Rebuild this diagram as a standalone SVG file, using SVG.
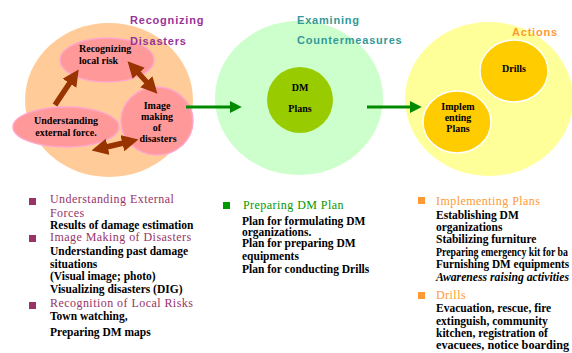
<svg xmlns="http://www.w3.org/2000/svg" width="572" height="353" viewBox="0 0 572 353">
<style>
.sec{font-family:"Liberation Sans",Arial,sans-serif;font-size:11px;font-weight:bold;letter-spacing:0.8px}
.nt{font-family:"Liberation Serif","Times New Roman",serif;font-size:10px;font-weight:bold;fill:#000}
.li{font-family:"Liberation Serif","Times New Roman",serif;font-size:11.5px;font-weight:bold;fill:#000}
.hd{font-family:"Liberation Serif","Times New Roman",serif;font-size:12px;letter-spacing:0.45px}
.pink{fill:#FF9999;stroke:#FFA6CC;stroke-width:1.5}
.gold{fill:#FFCC00;stroke:#FFFFFF;stroke-width:1.5}
.brown{stroke:#993300;stroke-width:5.5;fill:none}
.green{stroke:#008A00;stroke-width:3;fill:none}
</style>
<defs>
<marker id="bh" viewBox="0 0 10 10" refX="6" refY="5" markerWidth="3" markerHeight="3" orient="auto-start-reverse">
<path d="M0,0 L10,5 L0,10 z" fill="#993300"/>
</marker>
<marker id="gh" viewBox="0 0 10 10" refX="6" refY="5" markerWidth="4" markerHeight="4" orient="auto">
<path d="M0,0 L10,5 L0,10 z" fill="#008A00"/>
</marker>
</defs>

<g id="recognizing-disasters">
<ellipse cx="109" cy="100" rx="84" ry="77" fill="#FFCC99"/>
</g>
<g id="examining-countermeasures">
<ellipse cx="299" cy="98" rx="84" ry="77" fill="#CCFFCC"/>
<text class="sec" x="297" y="24" fill="#339999">Examining</text>
<text class="sec" x="297" y="44" fill="#339999">Countermeasures</text>
</g>
<g id="actions">
<ellipse cx="489" cy="99" rx="84" ry="77" fill="#FFFF99"/>
<text class="sec" x="512" y="36" fill="#FF9933" letter-spacing="1.6">Actions</text>
</g>

<g id="recognizing-local-risk">
<ellipse class="pink" cx="107" cy="60" rx="47" ry="22"/>
<text class="nt" x="79" y="52">Recognizing</text>
<text class="nt" x="79" y="64">local risk</text>
</g>
<g id="image-making">
<ellipse class="pink" cx="157" cy="121" rx="36" ry="34"/>
<text class="nt" text-anchor="middle" x="157" y="109">Image</text>
<text class="nt" text-anchor="middle" x="157" y="120">making</text>
<text class="nt" text-anchor="middle" x="157" y="131">of</text>
<text class="nt" text-anchor="middle" x="158" y="142">disasters</text>
</g>
<g id="understanding-external-force">
<ellipse class="pink" cx="66" cy="127" rx="53" ry="20"/>
<text class="nt" text-anchor="middle" x="66" y="124">Understanding</text>
<text class="nt" text-anchor="middle" x="66" y="136" font-weight="normal">external force.</text>
</g>

<g id="dm-plans">
<circle cx="300" cy="100" r="33" fill="#99CC00"/>
<text class="nt" text-anchor="middle" x="300" y="91" font-weight="normal">DM</text>
<text class="nt" text-anchor="middle" x="300" y="112" font-size="12">Plans</text>
</g>

<g id="drills">
<ellipse class="gold" cx="514" cy="71" rx="34" ry="31"/>
<text class="nt" text-anchor="middle" x="514" y="72">Drills</text>
</g>
<g id="implementing-plans">
<ellipse class="gold" cx="457" cy="122" rx="34" ry="31"/>
<text class="nt" text-anchor="middle" x="458" y="110">Implem</text>
<text class="nt" text-anchor="middle" x="458" y="121">enting</text>
<text class="nt" text-anchor="middle" x="458" y="132">Plans</text>
</g>

<g id="connectors">
<line class="brown" x1="55" y1="105" x2="75" y2="75" marker-end="url(#bh)"/>
<line class="brown" x1="132" y1="66" x2="153" y2="89" marker-start="url(#bh)" marker-end="url(#bh)"/>
<line class="brown" x1="98" y1="149" x2="132" y2="141" marker-start="url(#bh)" marker-end="url(#bh)"/>
<line class="green" x1="186" y1="107" x2="237" y2="107" marker-end="url(#gh)"/>
<line class="green" x1="367" y1="107" x2="417" y2="107" marker-end="url(#gh)"/>
</g>

<g id="recognizing-disasters-label">
<text class="sec" x="130" y="24" fill="#993399">Recognizing</text>
<text class="sec" x="130" y="45" fill="#993399">Disasters</text>
</g>

<g id="list-left">
<rect x="29" y="198" width="7" height="7" fill="#993366"/>
<text class="hd" x="50" y="203" fill="#993366">Understanding External</text>
<text class="hd" x="50" y="216.5" fill="#993366" font-size="10.5">Forces</text>
<text class="li" x="50" y="229">Results of damage estimation</text>
<rect x="29" y="235" width="7" height="7" fill="#993366"/>
<text class="hd" x="50" y="241" fill="#993366">Image Making of Disasters</text>
<text class="li" x="50" y="255">Understanding past damage</text>
<text class="li" x="50" y="268">situations</text>
<text class="li" x="50" y="280" fill="#333366">(Visual image; photo)</text>
<text class="li" x="50" y="293" fill="#333366">Visualizing disasters (DIG)</text>
<rect x="29" y="302" width="7" height="7" fill="#993366"/>
<text class="hd" x="50" y="307" fill="#993366">Recognition of Local Risks</text>
<text class="li" x="50" y="320">Town watching,</text>
<text class="li" x="50" y="336">Preparing DM maps</text>
</g>

<g id="list-middle">
<rect x="223" y="202" width="7" height="7" fill="#009900"/>
<text class="hd" x="243" y="209" fill="#009900" font-size="11" letter-spacing="0.7">Preparing DM Plan</text>
<text class="li" x="242" y="225">Plan for formulating DM</text>
<text class="li" x="242" y="236" fill="#333399" font-weight="normal">organizations.</text>
<text class="li" x="242" y="247">Plan for preparing DM</text>
<text class="li" x="242" y="260">equipments</text>
<text class="li" x="242" y="273">Plan for conducting Drills</text>
</g>

<g id="list-right">
<rect x="418" y="197" width="7" height="7" fill="#FF9933"/>
<text class="hd" x="436" y="205" fill="#FF9933">Implementing Plans</text>
<text class="li" x="436" y="219">Establishing DM</text>
<text class="li" x="436" y="231" fill="#333399" font-weight="normal">organizations</text>
<text class="li" x="436" y="243" fill="#000033">Stabilizing furniture</text>
<text class="li" x="436" y="256" fill="#663300" textLength="132" lengthAdjust="spacingAndGlyphs">Preparing emergency kit for ba</text>
<text class="li" x="436" y="268" fill="#330033" textLength="133" lengthAdjust="spacingAndGlyphs">Furnishing DM equipments</text>
<text class="li" x="436" y="281" font-style="italic" textLength="133" lengthAdjust="spacingAndGlyphs">Awareness raising activities</text>
<rect x="418" y="292" width="7" height="7" fill="#FF9933"/>
<text class="hd" x="436" y="299" fill="#FF9933">Drills</text>
<text class="li" x="436" y="312">Evacuation, rescue, fire</text>
<text class="li" x="436" y="325" fill="#1A1A66">extinguish, community</text>
<text class="li" x="436" y="337" fill="#330033">kitchen, registration of</text>
<text class="li" x="436" y="349" textLength="133" lengthAdjust="spacingAndGlyphs">evacuees, notice boarding</text>
</g>
</svg>
